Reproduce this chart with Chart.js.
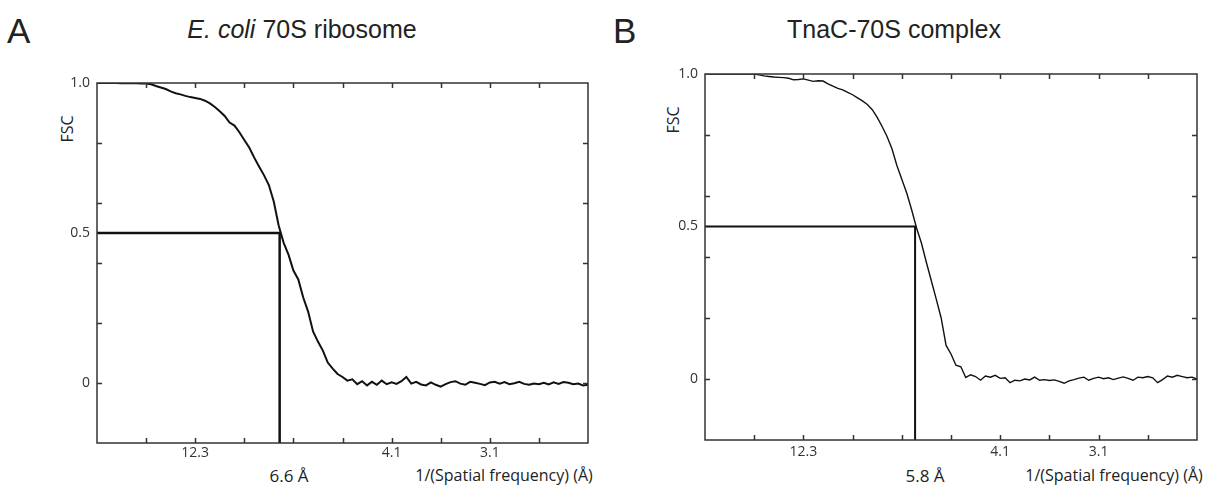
<!DOCTYPE html>
<html>
<head>
<meta charset="utf-8">
<script src="https://cdn.jsdelivr.net/npm/chart.js@4/dist/chart.umd.min.js"></script>
<style>
    body { margin: 0; background: #fff; width: 1213px; height: 485px; position: relative; overflow: hidden; }
    .txt { position: absolute; color: #222; white-space: nowrap; line-height: 1; }
    .panel { font-family: "Liberation Sans", Arial, sans-serif; font-size: 35px; }
    .title { font-family: "Liberation Sans", Arial, sans-serif; font-size: 25px; width: 400px; text-align: center; }
    .lbl { font-family: "Open Sans", sans-serif; transform: translate(-50%, -50%); }
    canvas { position: absolute; }
</style>
</head>
<body>
<div class="txt panel" style="left:7px; top:13px;">A</div>
<div class="txt title" style="left:102px; top:17px;"><i>E. coli</i> 70S ribosome</div>
<div class="txt panel" style="left:613px; top:13px;">B</div>
<div class="txt title" style="left:694px; top:17px;">TnaC-70S complex</div>

<div class="txt lbl" style="left:67px; top:129px; font-size:16px; transform: translate(-50%, -50%) rotate(-90deg);">FSC</div>
<div class="txt lbl" style="left:673px; top:120px; font-size:16px; transform: translate(-50%, -50%) rotate(-90deg);">FSC</div>

<div class="txt lbl" style="left:289px; top:475px; font-size:17px;">6.6 Å</div>
<div class="txt lbl" style="left:504px; top:475px; font-size:16px;">1/(Spatial frequency) (Å)</div>
<div class="txt lbl" style="left:925px; top:475px; font-size:17px;">5.8 Å</div>
<div class="txt lbl" style="left:1114px; top:475px; font-size:16px;">1/(Spatial frequency) (Å)</div>

<canvas id="fsc-a" width="606" height="425" style="left:0px; top:60px;"></canvas>
<canvas id="fsc-b" width="607" height="435" style="left:606px; top:50px;"></canvas>

<script>
// x is spatial frequency as a fraction of Nyquist (2.46 Å), FSC sampled every 0.01
const shellSpacing = 0.01;

// tick labels show resolution in Å
const xTickValues = [0.2, 0.6, 0.8];
const xTickLabels = ['12.3', '4.1', '3.1'];
const xTickMarks = [0.1, 0.2, 0.3, 0.4, 0.5, 0.6, 0.7, 0.8, 0.9];
const yLabelValues = [1.0, 0.5, 0];
const yLabelText = ['1.0', '0.5', '0'];
const yTickMarks = [0, 0.2, 0.4, 0.6, 0.8];

// E. coli 70S ribosome
const fscA = [
    1.000, 1.000, 1.000, 1.000, 1.000, 0.999, 1.000, 0.999, 0.999, 0.998,
    0.998, 0.996, 0.990, 0.985, 0.980, 0.972, 0.966, 0.962, 0.957, 0.953,
    0.950, 0.947, 0.941, 0.932, 0.920, 0.906, 0.890, 0.868, 0.858, 0.836,
    0.810, 0.785, 0.752, 0.722, 0.693, 0.660, 0.605, 0.525, 0.468, 0.428,
    0.375, 0.345, 0.285, 0.238, 0.172, 0.138, 0.108, 0.068, 0.048, 0.030,
    0.020, 0.008, 0.012, -0.004, 0.006, -0.008, 0.004, -0.006, 0.008, -0.004,
    0.002, -0.003, 0.006, 0.020, -0.002, 0.004, -0.005, -0.008, 0.002, -0.006,
    -0.012, -0.004, 0.003, 0.006, -0.002, -0.006, 0.004, 0.001, -0.003, -0.007,
    0.002, 0.004, -0.002, 0.003, -0.004, -0.001, 0.004, -0.003, -0.006, -0.002,
    -0.004, 0.001, -0.005, 0.002, -0.003, 0.003, 0.001, -0.004, -0.002, -0.008,
    -0.006
];

// TnaC-70S complex
const fscB = [
    1.000, 1.000, 1.000, 1.000, 1.000, 1.000, 1.000, 1.000, 1.000, 1.000,
    1.000, 0.997, 0.994, 0.992, 0.990, 0.989, 0.988, 0.986, 0.981, 0.982,
    0.984, 0.980, 0.976, 0.978, 0.977, 0.968, 0.960, 0.953, 0.948, 0.940,
    0.932, 0.922, 0.912, 0.900, 0.883, 0.858, 0.828, 0.795, 0.755, 0.700,
    0.655, 0.610, 0.555, 0.495, 0.445, 0.382, 0.322, 0.262, 0.200, 0.110,
    0.082, 0.045, 0.040, 0.005, 0.014, 0.008, -0.004, 0.010, 0.006, 0.012,
    0.002, 0.004, -0.012, -0.004, -0.006, 0.000, -0.003, 0.006, -0.004, -0.002,
    -0.005, -0.003, -0.008, -0.014, -0.006, -0.002, 0.003, 0.006, -0.004, 0.002,
    0.006, 0.001, 0.004, -0.002, 0.003, 0.007, 0.002, -0.004, 0.006, 0.004,
    0.008, 0.004, -0.012, -0.002, 0.010, 0.006, 0.012, 0.008, 0.004, 0.006,
    0.000
];

// FSC = 0.5 cut-off lines (x at the crossing)
const cutoffA = [{ x: 0, y: 0.5 }, { x: 0.372, y: 0.5 }, { x: 0.372, y: -0.2 }];
const cutoffB = [{ x: 0, y: 0.5 }, { x: 0.427, y: 0.5 }, { x: 0.427, y: -0.2 }];

const tickFont = { family: 'Open Sans', size: 14 };

// box frame with small inward tick marks on all four sides
const frameTicks = {
    id: 'frameTicks',
    afterDatasetsDraw(chart) {
        const { ctx, chartArea: a, scales: { x, y } } = chart;
        ctx.save();
        ctx.strokeStyle = '#333';
        ctx.lineWidth = 1.5;
        ctx.strokeRect(a.left, a.top, a.width, a.height);
        ctx.beginPath();
        xTickMarks.forEach(v => {
            const px = Math.round(x.getPixelForValue(v)) + 0.5;
            ctx.moveTo(px, a.bottom); ctx.lineTo(px, a.bottom - 5);
            ctx.moveTo(px, a.top); ctx.lineTo(px, a.top + 5);
        });
        yTickMarks.forEach(v => {
            const py = Math.round(y.getPixelForValue(v)) + 0.5;
            ctx.moveTo(a.left, py); ctx.lineTo(a.left + 5, py);
            ctx.moveTo(a.right, py); ctx.lineTo(a.right - 5, py);
        });
        ctx.stroke();
        ctx.restore();
    }
};

function pickLabel(value, values, labels) {
    const i = values.findIndex(v => Math.abs(v - value) < 1e-6);
    return i >= 0 ? labels[i] : '';
}

function renderFscChart(id, fsc, cutoff, opts) {
    const ctx = document.getElementById(id).getContext('2d');
    const points = fsc.map((v, i) => ({ x: i * shellSpacing, y: v }));

    new Chart(ctx, {
        type: 'line',
        data: {
            datasets: [{
                data: points,
                borderColor: '#111',
                borderWidth: opts.curveWidth,
                pointRadius: 0,
                tension: 0,
            }, {
                data: cutoff,
                borderColor: '#111',
                borderWidth: opts.cutWidth,
                pointRadius: 0,
                tension: 0,
            }]
        },
        options: {
            responsive: false,
            animation: false,
            layout: { padding: { left: 0, right: opts.padRight, top: opts.padTop, bottom: 0 } },
            plugins: { legend: { display: false }, tooltip: { enabled: false }, title: { display: false } },
            scales: {
                x: {
                    type: 'linear',
                    min: 0,
                    max: 1,
                    afterFit: s => { s.height = opts.xHeight; },
                    border: { display: false },
                    grid: { display: false, drawTicks: false },
                    ticks: {
                        stepSize: 0.1,
                        autoSkip: false,
                        maxRotation: 0,
                        padding: opts.xPad,
                        color: '#333',
                        font: tickFont,
                        callback: v => pickLabel(v, xTickValues, xTickLabels),
                    }
                },
                y: {
                    min: -0.2,
                    max: 1.0,
                    afterFit: s => { s.width = opts.yWidth; },
                    border: { display: false },
                    grid: { display: false, drawTicks: false },
                    ticks: {
                        stepSize: 0.1,
                        autoSkip: false,
                        padding: 7,
                        color: '#333',
                        font: tickFont,
                        callback: v => pickLabel(v, yLabelValues, yLabelText),
                    }
                }
            }
        },
        plugins: [frameTicks]
    });
}

renderFscChart('fsc-a', fscA, cutoffA, { curveWidth: 2, cutWidth: 2.5, padRight: 18, padTop: 23, xHeight: 42, xPad: 2, yWidth: 97 });
renderFscChart('fsc-b', fscB, cutoffB, { curveWidth: 1.4, cutWidth: 2, padRight: 16, padTop: 24, xHeight: 45, xPad: 4, yWidth: 99 });
</script>
</body>
</html>
